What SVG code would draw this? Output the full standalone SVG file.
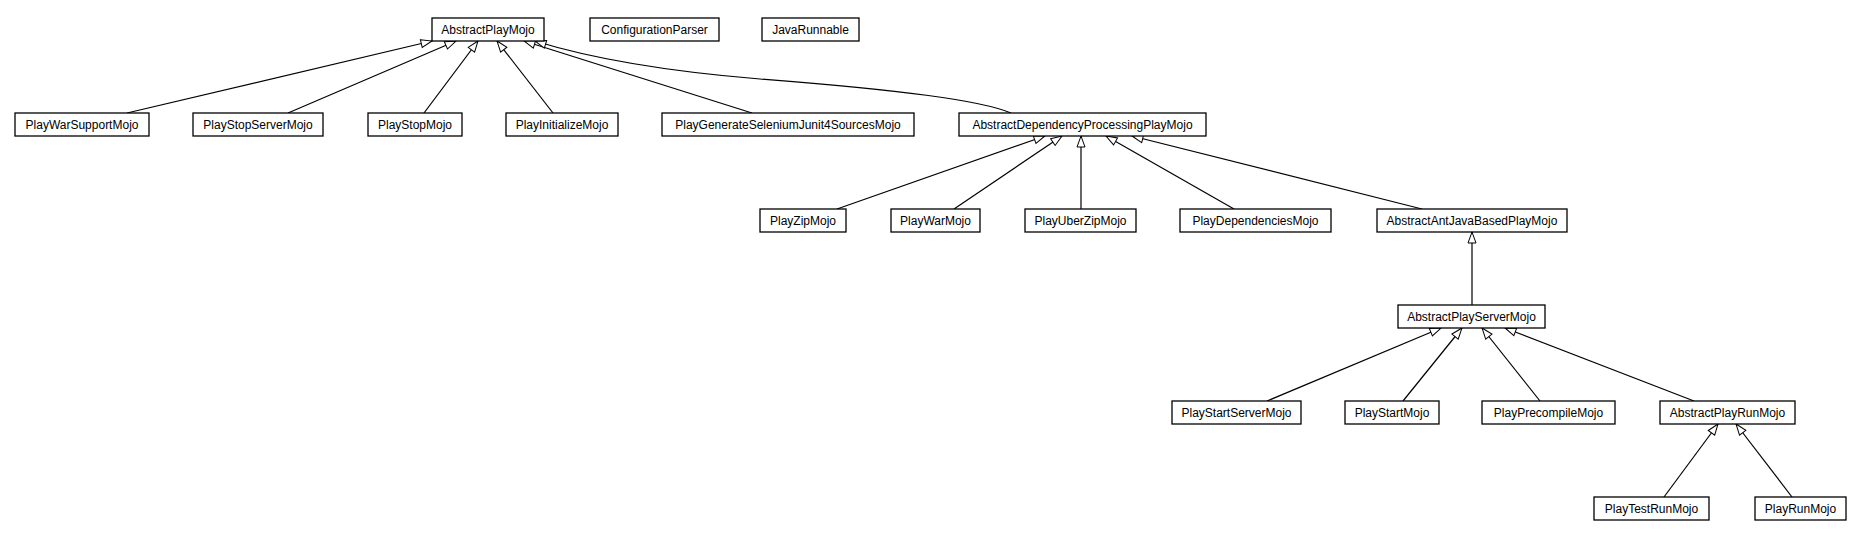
<svg xmlns="http://www.w3.org/2000/svg" width="1863" height="539" viewBox="0 0 1863 539">
<style>
.n rect{fill:#fff;stroke:#000;stroke-width:1.3}
.n text{font-family:"Liberation Sans",Arial,sans-serif;font-size:12px;fill:#000;text-anchor:middle}
.e path{fill:none;stroke:#000;stroke-width:1.2;marker-end:url(#gen)}
</style>
<defs>
<marker id="gen" markerWidth="16" markerHeight="12" refX="12" refY="5" orient="auto" markerUnits="userSpaceOnUse">
<path d="M1,1 L12,5 L1,9 Z" fill="#fff" stroke="#000" stroke-width="1"/>
</marker>
</defs>
<rect width="1863" height="539" fill="#fff"/>
<g id="connectors" class="e">
<path d="M127,113 L432,41"/>
<path d="M288,113 L456,41"/>
<path d="M424,113 L478,41"/>
<path d="M553,113 L497,41"/>
<path d="M752,113 L524,41"/>
<path d="M1011,113 C980,100 900,90 760,79 C650,70 580,55 535,41"/>
<path d="M837,209 L1045,136"/>
<path d="M954,209 L1062,136"/>
<path d="M1081,209 L1081,136"/>
<path d="M1234,209 L1106,136"/>
<path d="M1422,209 L1132,136"/>
<path d="M1472,305 L1472,232"/>
<path d="M1267,401 L1441,328"/>
<path d="M1403,401 L1462,328"/>
<path d="M1540,401 L1482,328"/>
<path d="M1694,401 L1505,328"/>
<path d="M1664,497 L1718,424"/>
<path d="M1792,497 L1736,424"/>
</g>
<g id="AbstractPlayMojo" class="n"><rect x="432" y="18" width="112" height="23"/><text x="488" y="33.5">AbstractPlayMojo</text></g>
<g id="ConfigurationParser" class="n"><rect x="590" y="18" width="129" height="23"/><text x="654.5" y="33.5">ConfigurationParser</text></g>
<g id="JavaRunnable" class="n"><rect x="762" y="18" width="97" height="23"/><text x="810.5" y="33.5">JavaRunnable</text></g>
<g id="PlayWarSupportMojo" class="n"><rect x="15" y="113" width="134" height="23"/><text x="82" y="128.5">PlayWarSupportMojo</text></g>
<g id="PlayStopServerMojo" class="n"><rect x="193" y="113" width="130" height="23"/><text x="258" y="128.5">PlayStopServerMojo</text></g>
<g id="PlayStopMojo" class="n"><rect x="368" y="113" width="94" height="23"/><text x="415" y="128.5">PlayStopMojo</text></g>
<g id="PlayInitializeMojo" class="n"><rect x="506" y="113" width="112" height="23"/><text x="562" y="128.5">PlayInitializeMojo</text></g>
<g id="PlayGenerateSeleniumJunit4SourcesMojo" class="n"><rect x="662" y="113" width="252" height="23"/><text x="788" y="128.5">PlayGenerateSeleniumJunit4SourcesMojo</text></g>
<g id="AbstractDependencyProcessingPlayMojo" class="n"><rect x="959" y="113" width="247" height="23"/><text x="1082.5" y="128.5">AbstractDependencyProcessingPlayMojo</text></g>
<g id="PlayZipMojo" class="n"><rect x="760" y="209" width="86" height="23"/><text x="803" y="224.5">PlayZipMojo</text></g>
<g id="PlayWarMojo" class="n"><rect x="891" y="209" width="89" height="23"/><text x="935.5" y="224.5">PlayWarMojo</text></g>
<g id="PlayUberZipMojo" class="n"><rect x="1025" y="209" width="111" height="23"/><text x="1080.5" y="224.5">PlayUberZipMojo</text></g>
<g id="PlayDependenciesMojo" class="n"><rect x="1180" y="209" width="151" height="23"/><text x="1255.5" y="224.5">PlayDependenciesMojo</text></g>
<g id="AbstractAntJavaBasedPlayMojo" class="n"><rect x="1377" y="209" width="190" height="23"/><text x="1472" y="224.5">AbstractAntJavaBasedPlayMojo</text></g>
<g id="AbstractPlayServerMojo" class="n"><rect x="1398" y="305" width="147" height="23"/><text x="1471.5" y="320.5">AbstractPlayServerMojo</text></g>
<g id="PlayStartServerMojo" class="n"><rect x="1172" y="401" width="129" height="23"/><text x="1236.5" y="416.5">PlayStartServerMojo</text></g>
<g id="PlayStartMojo" class="n"><rect x="1345" y="401" width="94" height="23"/><text x="1392" y="416.5">PlayStartMojo</text></g>
<g id="PlayPrecompileMojo" class="n"><rect x="1482" y="401" width="133" height="23"/><text x="1548.5" y="416.5">PlayPrecompileMojo</text></g>
<g id="AbstractPlayRunMojo" class="n"><rect x="1660" y="401" width="135" height="23"/><text x="1727.5" y="416.5">AbstractPlayRunMojo</text></g>
<g id="PlayTestRunMojo" class="n"><rect x="1594" y="497" width="115" height="23"/><text x="1651.5" y="512.5">PlayTestRunMojo</text></g>
<g id="PlayRunMojo" class="n"><rect x="1755" y="497" width="91" height="23"/><text x="1800.5" y="512.5">PlayRunMojo</text></g>
</svg>
